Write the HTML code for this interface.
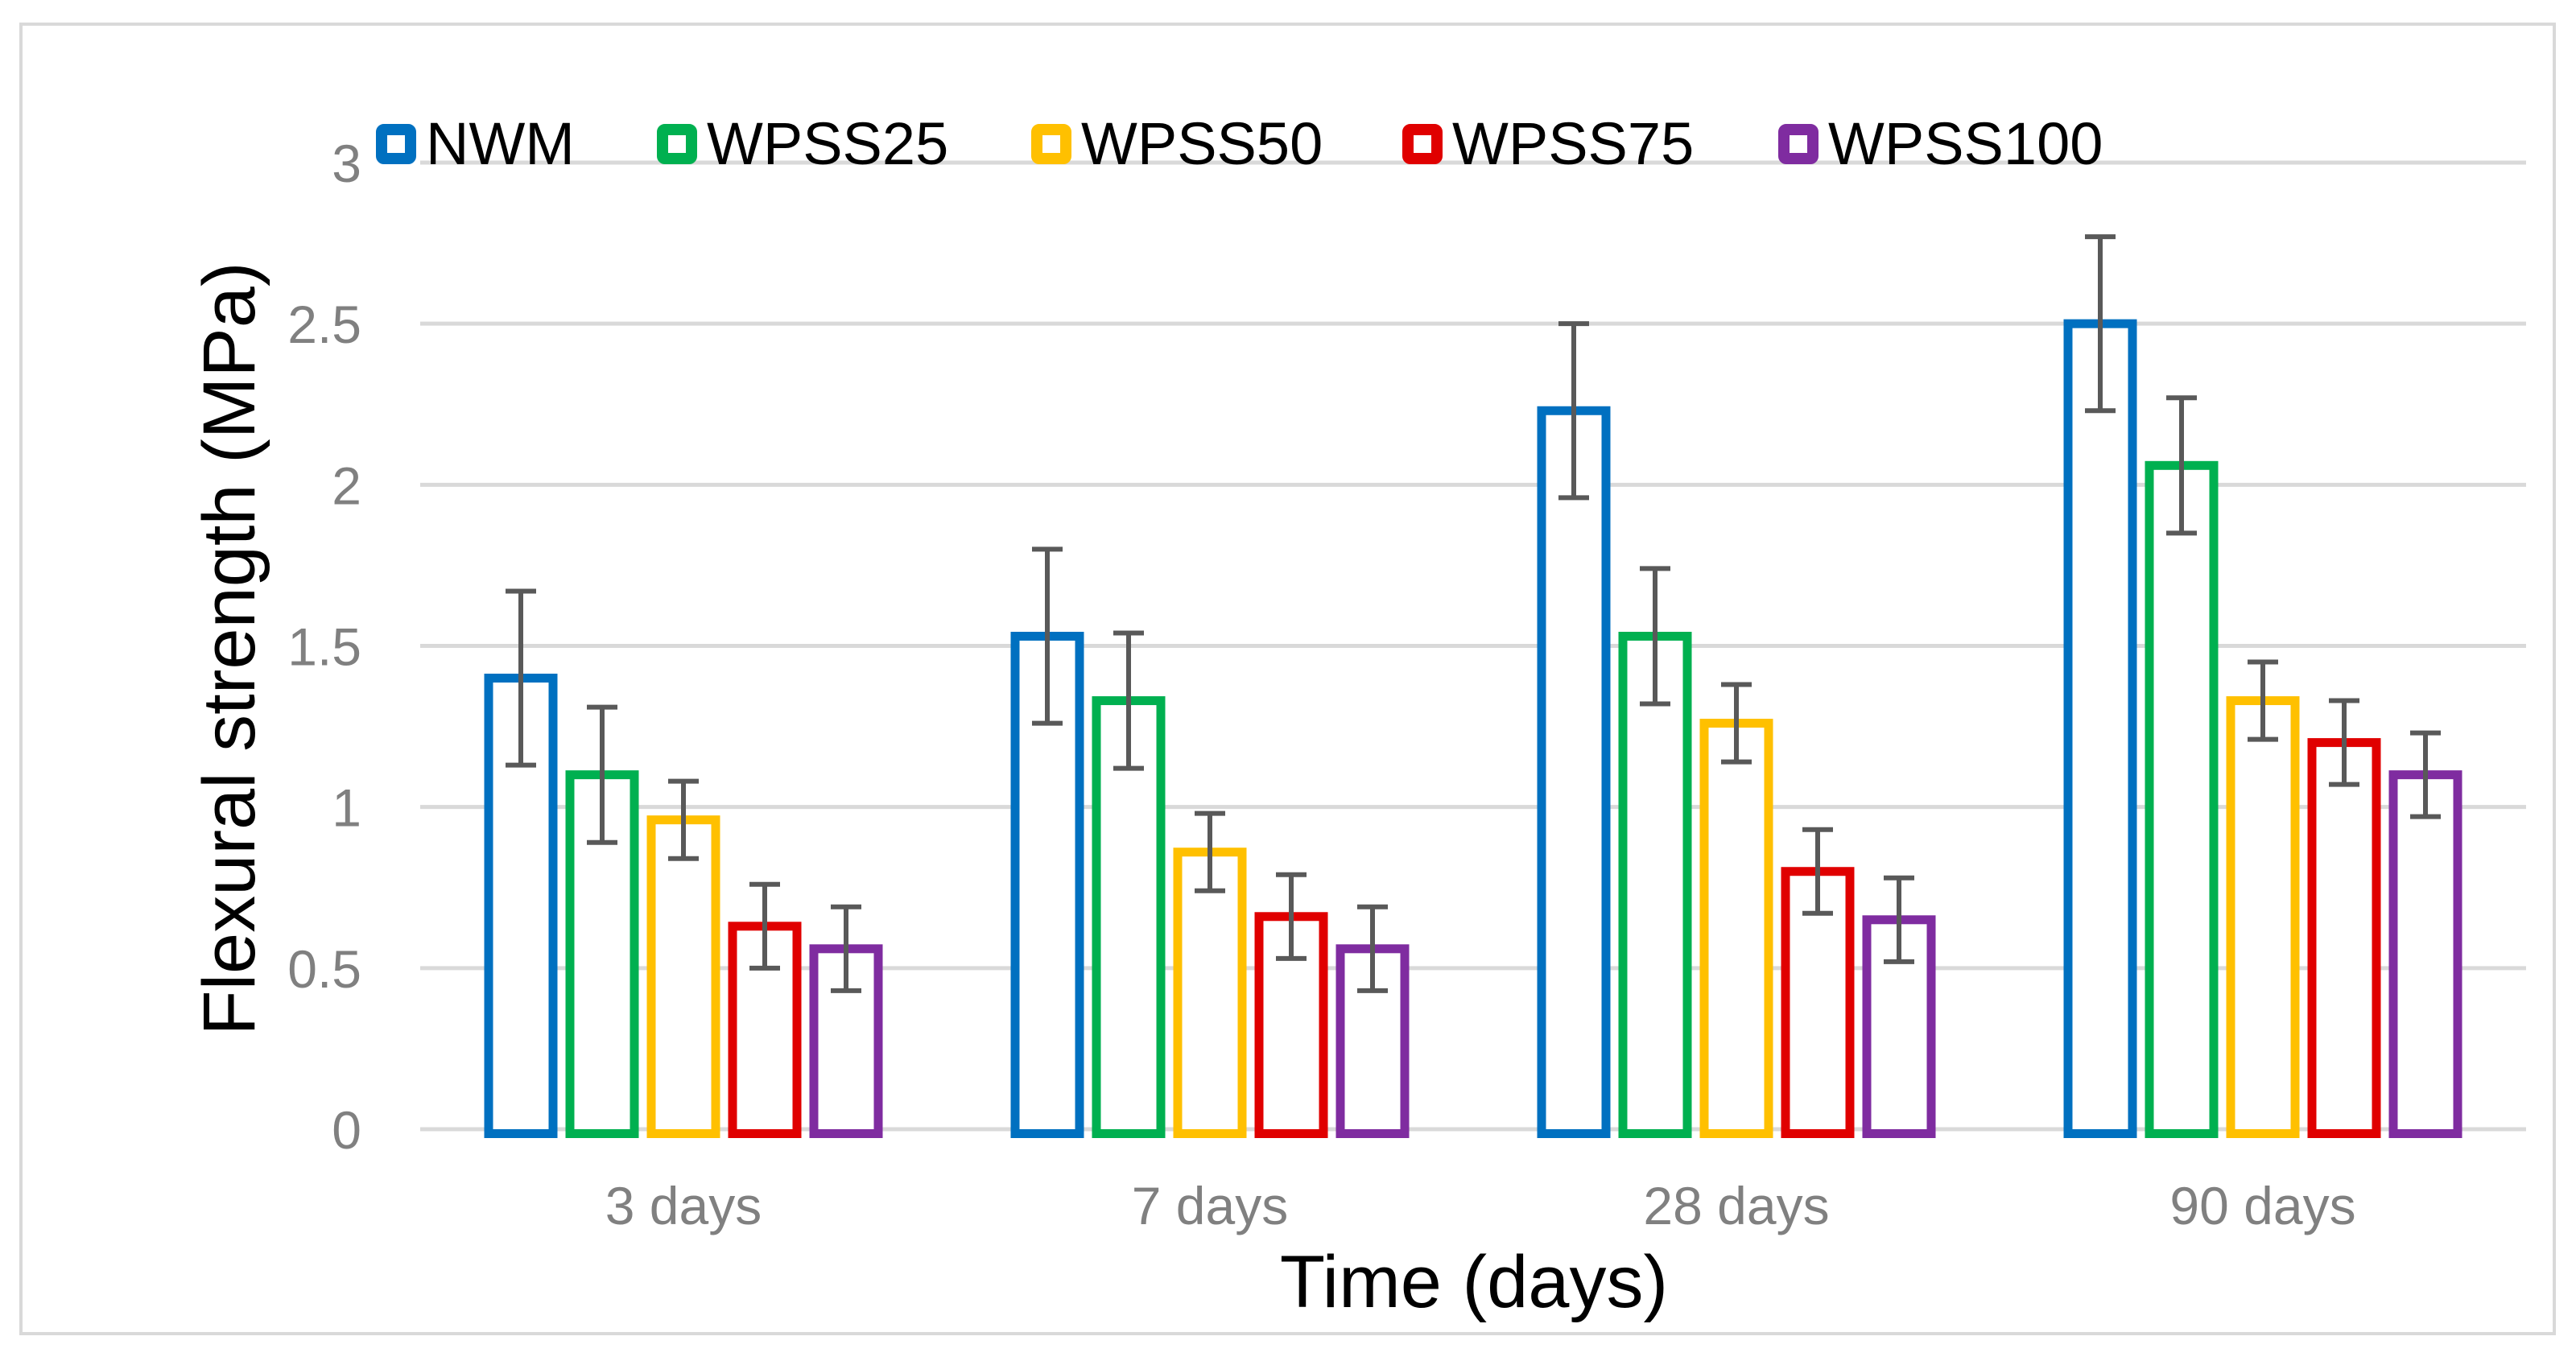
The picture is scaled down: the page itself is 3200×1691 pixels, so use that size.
<!DOCTYPE html>
<html><head><meta charset="utf-8"><style>html,body{margin:0;padding:0;background:#fff}svg{display:block}</style></head>
<body>
<svg id="chart" width="3200" height="1691" viewBox="0 0 3200 1691" xmlns="http://www.w3.org/2000/svg" font-family="Liberation Sans, sans-serif">
<rect x="26" y="30" width="3147" height="1627" fill="#fff" stroke="#d9d9d9" stroke-width="4"/>
<g id="grid"></g><g id="bars"></g><g id="errs"></g><g id="ylabels"></g><g id="xlabels"></g><g id="legend"></g>
<text transform="translate(316,806) rotate(-90)" text-anchor="middle" font-size="92" fill="#000">Flexural strength (MPa)</text>
<text x="1831" y="1624" text-anchor="middle" font-size="92" fill="#000">Time (days)</text>
</svg>
<script>
const categories = ["3 days","7 days","28 days","90 days"];
const seriesNames = ["NWM","WPSS25","WPSS50","WPSS75","WPSS100"];
const nwm = [1.4,1.53,2.23,2.5];
const wpss25 = [1.1,1.33,1.53,2.06];
const wpss50 = [0.96,0.86,1.26,1.33];
const wpss75 = [0.63,0.66,0.8,1.2];
const wpss100 = [0.56,0.56,0.65,1.1];
const errNwm = [0.27,0.27,0.27,0.27];
const errWpss25 = [0.21,0.21,0.21,0.21];
const errWpss50 = [0.12,0.12,0.12,0.12];
const errWpss75 = [0.13,0.13,0.13,0.13];
const errWpss100 = [0.13,0.13,0.13,0.13];
const yTicks = [0,0.5,1,1.5,2,2.5,3];
const yTickLabels = ["0","0.5","1","1.5","2","2.5","3"];

const values=[nwm,wpss25,wpss50,wpss75,wpss100];
const errs=[errNwm,errWpss25,errWpss50,errWpss75,errWpss100];
const colors=["#0070c0","#00b050","#ffc000","#e00000","#7f2ca0"];
const NS="http://www.w3.org/2000/svg";
const L=522,R=3138,Y0=1403,Y3=202;
const y=v=>Y0-(v/3)*(Y0-Y3);
const gw=(R-L)/categories.length;
const xc=i=>L+gw*(i+0.5);
const pitch=101,bw=80,sw=11;
function mk(t,a,p){const e=document.createElementNS(NS,t);for(const k in a)e.setAttribute(k,a[k]);p.appendChild(e);return e;}
const G=document.getElementById('grid');
yTicks.forEach((t,i)=>{
  const l=mk('line',{x1:L,x2:R,y1:y(t),y2:y(t),stroke:'#d9d9d9','stroke-width':5},G);
  
  
  const tx=mk('text',{x:449,y:y(t)+24,'text-anchor':'end','font-size':66,fill:'#808080'},document.getElementById('ylabels'));
  tx.textContent=yTickLabels[i];
  
  
});
categories.forEach((c,i)=>{
  const tx=mk('text',{x:xc(i),y:1521,'text-anchor':'middle','font-size':66,fill:'#808080'},document.getElementById('xlabels'));
  tx.textContent=c;
  
  
});
const B=document.getElementById('bars'),E=document.getElementById('errs');
values.forEach((arr,s)=>{
  arr.forEach((v,i)=>{
    const cx=xc(i)+(s-2)*pitch;
    const r=mk('rect',{x:cx-bw/2,y:y(v),width:bw,height:Y0-y(v)+sw/2,fill:'#fff',stroke:colors[s],'stroke-width':sw},B);
    
    
    const e=errs[s][i];
    const g=mk('g',{stroke:'#595959','stroke-width':6},E);
    
    
    mk('line',{x1:cx,x2:cx,y1:y(v+e),y2:y(v-e)},g);
    mk('line',{x1:cx-19,x2:cx+19,y1:y(v+e),y2:y(v+e)},g);
    mk('line',{x1:cx-19,x2:cx+19,y1:y(v-e),y2:y(v-e)},g);
  });
});
const legX=[467,816,1281,1742,2209];
const LG=document.getElementById('legend');
seriesNames.forEach((n,s)=>{
  const g=mk('g',{},LG);
  
  
  mk('rect',{x:legX[s]+7,y:161,width:36,height:36,rx:3,fill:'#fff',stroke:colors[s],'stroke-width':14},g);
  const t=mk('text',{x:legX[s]+62,y:204,'font-size':74,fill:'#000'},g);
  t.textContent=n;
});
</script>
</body></html>
